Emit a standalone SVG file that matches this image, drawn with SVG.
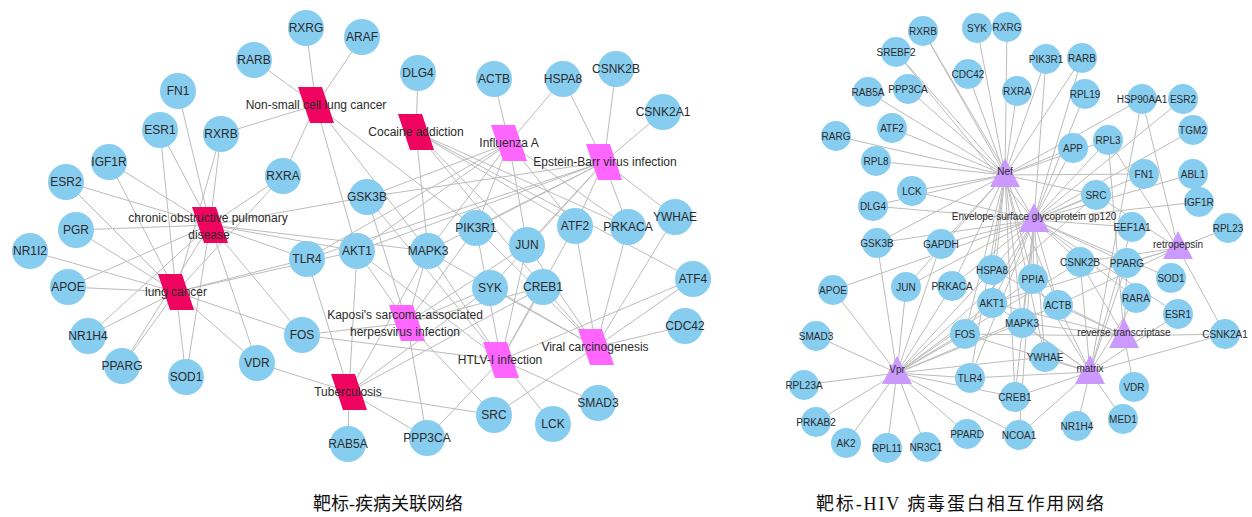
<svg xmlns="http://www.w3.org/2000/svg" width="1252" height="517" viewBox="0 0 1252 517">
<style>
.bg{fill:#ffffff}
.e line{stroke:#bcbcbc;stroke-width:1}
.gL circle{fill:#87cdf0}
.gR circle{fill:#87cdf0}
.gL text{font-family:"Liberation Sans",Arial,sans-serif;font-size:12px;fill:#2a2a2a;text-anchor:middle}
.gR text{font-family:"Liberation Sans",Arial,sans-serif;font-size:10px;fill:#2a2a2a;text-anchor:middle}
.dr polygon{fill:#ef0560}
.dm polygon{fill:#ff66ff}
.dr text,.dm text{font-family:"Liberation Sans",Arial,sans-serif;font-size:12px;fill:#2a2a2a;text-anchor:middle}
.tri polygon{fill:#cc99ff}
.tri text{font-family:"Liberation Sans",Arial,sans-serif;font-size:10px;fill:#2a2a2a;text-anchor:middle}
.cap{font-family:"Liberation Serif","Noto Sans CJK SC",serif;font-size:18px;fill:#111;text-anchor:middle}
</style>
<rect class="bg" x="0" y="0" width="1252" height="517"/>
<g id="connectors" class="e">
<!-- NSCLC -->
<line x1="316" y1="105" x2="306" y2="28"/><line x1="316" y1="105" x2="362" y2="37"/><line x1="316" y1="105" x2="254" y2="60"/><line x1="316" y1="105" x2="221" y2="134"/><line x1="316" y1="105" x2="283" y2="176"/><line x1="316" y1="105" x2="357" y2="251"/><line x1="316" y1="105" x2="428" y2="251"/><line x1="316" y1="105" x2="476" y2="228"/>
<!-- COPD -->
<line x1="210" y1="225" x2="178" y2="91"/><line x1="210" y1="225" x2="160" y2="130"/><line x1="210" y1="225" x2="221" y2="134"/><line x1="210" y1="225" x2="109" y2="162"/><line x1="210" y1="225" x2="66" y2="182"/><line x1="210" y1="225" x2="283" y2="176"/><line x1="210" y1="225" x2="76" y2="230"/><line x1="210" y1="225" x2="367" y2="197"/><line x1="210" y1="225" x2="357" y2="251"/><line x1="210" y1="225" x2="307" y2="259"/><line x1="210" y1="225" x2="302" y2="335"/><line x1="210" y1="225" x2="257" y2="363"/><line x1="210" y1="225" x2="186" y2="377"/><line x1="210" y1="225" x2="122" y2="366"/><line x1="210" y1="225" x2="68" y2="287"/><line x1="210" y1="225" x2="88" y2="336"/><line x1="210" y1="225" x2="428" y2="251"/>
<!-- lung cancer -->
<line x1="176" y1="292" x2="160" y2="130"/><line x1="176" y1="292" x2="221" y2="134"/><line x1="176" y1="292" x2="109" y2="162"/><line x1="176" y1="292" x2="66" y2="182"/><line x1="176" y1="292" x2="76" y2="230"/><line x1="176" y1="292" x2="30" y2="251"/><line x1="176" y1="292" x2="68" y2="287"/><line x1="176" y1="292" x2="88" y2="336"/><line x1="176" y1="292" x2="122" y2="366"/><line x1="176" y1="292" x2="186" y2="377"/><line x1="176" y1="292" x2="257" y2="363"/><line x1="176" y1="292" x2="302" y2="335"/><line x1="176" y1="292" x2="307" y2="259"/><line x1="176" y1="292" x2="357" y2="251"/><line x1="176" y1="292" x2="283" y2="176"/>
<!-- Cocaine -->
<line x1="416" y1="132" x2="418" y2="73"/><line x1="416" y1="132" x2="628" y2="227"/><line x1="416" y1="132" x2="543" y2="287"/><line x1="416" y1="132" x2="575" y2="226"/><line x1="416" y1="132" x2="693" y2="279"/><line x1="416" y1="132" x2="527" y2="245"/><line x1="416" y1="132" x2="428" y2="251"/>
<!-- Influenza A -->
<line x1="509" y1="143" x2="494" y2="79"/><line x1="509" y1="143" x2="563" y2="79"/><line x1="509" y1="143" x2="367" y2="197"/><line x1="509" y1="143" x2="357" y2="251"/><line x1="509" y1="143" x2="428" y2="251"/><line x1="509" y1="143" x2="476" y2="228"/><line x1="509" y1="143" x2="527" y2="245"/><line x1="509" y1="143" x2="307" y2="259"/><line x1="509" y1="143" x2="575" y2="226"/><line x1="509" y1="143" x2="628" y2="227"/>
<!-- EBV -->
<line x1="604" y1="162" x2="563" y2="79"/><line x1="604" y1="162" x2="616" y2="69"/><line x1="604" y1="162" x2="663" y2="112"/><line x1="604" y1="162" x2="675" y2="217"/><line x1="604" y1="162" x2="628" y2="227"/><line x1="604" y1="162" x2="575" y2="226"/><line x1="604" y1="162" x2="367" y2="197"/><line x1="604" y1="162" x2="357" y2="251"/><line x1="604" y1="162" x2="428" y2="251"/><line x1="604" y1="162" x2="476" y2="228"/><line x1="604" y1="162" x2="527" y2="245"/><line x1="604" y1="162" x2="490" y2="288"/><line x1="604" y1="162" x2="307" y2="259"/>
<!-- KSHV -->
<line x1="407" y1="323" x2="302" y2="335"/><line x1="407" y1="323" x2="357" y2="251"/><line x1="407" y1="323" x2="428" y2="251"/><line x1="407" y1="323" x2="367" y2="197"/><line x1="407" y1="323" x2="476" y2="228"/><line x1="407" y1="323" x2="527" y2="245"/><line x1="407" y1="323" x2="490" y2="288"/><line x1="407" y1="323" x2="543" y2="287"/><line x1="407" y1="323" x2="427" y2="438"/><line x1="407" y1="323" x2="494" y2="415"/>
<!-- HTLV -->
<line x1="501" y1="360" x2="476" y2="228"/><line x1="501" y1="360" x2="527" y2="245"/><line x1="501" y1="360" x2="543" y2="287"/><line x1="501" y1="360" x2="575" y2="226"/><line x1="501" y1="360" x2="693" y2="279"/><line x1="501" y1="360" x2="553" y2="424"/><line x1="501" y1="360" x2="598" y2="403"/><line x1="501" y1="360" x2="427" y2="438"/><line x1="501" y1="360" x2="357" y2="251"/><line x1="501" y1="360" x2="302" y2="335"/><line x1="501" y1="360" x2="428" y2="251"/><line x1="501" y1="360" x2="367" y2="197"/>
<!-- Viral carcinogenesis -->
<line x1="596" y1="347" x2="490" y2="288"/><line x1="596" y1="347" x2="527" y2="245"/><line x1="596" y1="347" x2="543" y2="287"/><line x1="596" y1="347" x2="575" y2="226"/><line x1="596" y1="347" x2="628" y2="227"/><line x1="596" y1="347" x2="675" y2="217"/><line x1="596" y1="347" x2="693" y2="279"/><line x1="596" y1="347" x2="685" y2="326"/><line x1="596" y1="347" x2="494" y2="415"/><line x1="596" y1="347" x2="476" y2="228"/><line x1="596" y1="347" x2="428" y2="251"/>
<!-- Tuberculosis -->
<line x1="349" y1="392" x2="348" y2="444"/><line x1="349" y1="392" x2="257" y2="363"/><line x1="349" y1="392" x2="307" y2="259"/><line x1="349" y1="392" x2="357" y2="251"/><line x1="349" y1="392" x2="494" y2="415"/><line x1="349" y1="392" x2="427" y2="438"/><line x1="349" y1="392" x2="428" y2="251"/><line x1="349" y1="392" x2="490" y2="288"/><line x1="349" y1="392" x2="543" y2="287"/>
<!-- RIGHT: Nef -->
<line x1="1005" y1="175" x2="923" y2="31"/><line x1="1005" y1="175" x2="977" y2="28"/><line x1="1005" y1="175" x2="1007" y2="27"/><line x1="1005" y1="175" x2="896" y2="52"/><line x1="1005" y1="175" x2="968" y2="74"/><line x1="1005" y1="175" x2="868" y2="92"/><line x1="1005" y1="175" x2="908" y2="89"/><line x1="1005" y1="175" x2="1017" y2="91"/><line x1="1005" y1="175" x2="1046" y2="59"/><line x1="1005" y1="175" x2="1082" y2="58"/><line x1="1005" y1="175" x2="892" y2="128"/><line x1="1005" y1="175" x2="836" y2="136"/><line x1="1005" y1="175" x2="876" y2="161"/><line x1="1005" y1="175" x2="912" y2="191"/><line x1="1005" y1="175" x2="873" y2="206"/><line x1="1005" y1="175" x2="1073" y2="148"/><line x1="1005" y1="175" x2="1108" y2="140"/><line x1="1005" y1="175" x2="1142" y2="99"/><line x1="1005" y1="175" x2="1144" y2="174"/><line x1="1005" y1="175" x2="1096" y2="195"/><line x1="1005" y1="175" x2="877" y2="243"/><line x1="1005" y1="175" x2="941" y2="244"/><line x1="1005" y1="175" x2="992" y2="270"/><line x1="1005" y1="175" x2="992" y2="303"/><line x1="1005" y1="175" x2="952" y2="286"/><line x1="1005" y1="175" x2="1033" y2="279"/><line x1="1005" y1="175" x2="1022" y2="323"/><line x1="1005" y1="175" x2="1058" y2="305"/><line x1="1005" y1="175" x2="965" y2="334"/><line x1="1005" y1="175" x2="1015" y2="397"/><line x1="1005" y1="175" x2="970" y2="378"/><line x1="1005" y1="175" x2="906" y2="287"/><line x1="1005" y1="175" x2="1045" y2="357"/>
<!-- Env -->
<line x1="1034" y1="220" x2="923" y2="31"/><line x1="1034" y1="220" x2="896" y2="52"/><line x1="1034" y1="220" x2="1046" y2="59"/><line x1="1034" y1="220" x2="1082" y2="58"/><line x1="1034" y1="220" x2="1085" y2="94"/><line x1="1034" y1="220" x2="1073" y2="148"/><line x1="1034" y1="220" x2="1108" y2="140"/><line x1="1034" y1="220" x2="1183" y2="99"/><line x1="1034" y1="220" x2="1193" y2="130"/><line x1="1034" y1="220" x2="1193" y2="174"/><line x1="1034" y1="220" x2="1199" y2="202"/><line x1="1034" y1="220" x2="1144" y2="174"/><line x1="1034" y1="220" x2="1096" y2="195"/><line x1="1034" y1="220" x2="1132" y2="227"/><line x1="1034" y1="220" x2="1080" y2="262"/><line x1="1034" y1="220" x2="1127" y2="263"/><line x1="1034" y1="220" x2="1171" y2="278"/><line x1="1034" y1="220" x2="1033" y2="279"/><line x1="1034" y1="220" x2="1058" y2="305"/><line x1="1034" y1="220" x2="1022" y2="323"/><line x1="1034" y1="220" x2="992" y2="303"/><line x1="1034" y1="220" x2="992" y2="270"/><line x1="1034" y1="220" x2="952" y2="286"/><line x1="1034" y1="220" x2="941" y2="244"/><line x1="1034" y1="220" x2="906" y2="287"/><line x1="1034" y1="220" x2="965" y2="334"/><line x1="1034" y1="220" x2="970" y2="378"/><line x1="1034" y1="220" x2="1015" y2="397"/><line x1="1034" y1="220" x2="1045" y2="357"/><line x1="1034" y1="220" x2="873" y2="206"/><line x1="1034" y1="220" x2="912" y2="191"/><line x1="1034" y1="220" x2="833" y2="290"/><line x1="1034" y1="220" x2="877" y2="243"/><line x1="1034" y1="220" x2="1019" y2="435"/><line x1="1034" y1="220" x2="1136" y2="298"/><line x1="1034" y1="220" x2="1178" y2="314"/>
<!-- retropepsin -->
<line x1="1178" y1="248" x2="1228" y2="228"/><line x1="1178" y1="248" x2="1142" y2="99"/><line x1="1178" y1="248" x2="1108" y2="140"/><line x1="1178" y1="248" x2="1127" y2="263"/><line x1="1178" y1="248" x2="1225" y2="334"/><line x1="1178" y1="248" x2="1058" y2="305"/><line x1="1178" y1="248" x2="1080" y2="262"/><line x1="1178" y1="248" x2="1096" y2="195"/><line x1="1178" y1="248" x2="992" y2="303"/>
<!-- reverse transcriptase -->
<line x1="1124" y1="336" x2="1022" y2="323"/><line x1="1124" y1="336" x2="1225" y2="334"/><line x1="1124" y1="336" x2="1134" y2="387"/><line x1="1124" y1="336" x2="1058" y2="305"/><line x1="1124" y1="336" x2="1080" y2="262"/><line x1="1124" y1="336" x2="1127" y2="263"/><line x1="1124" y1="336" x2="1108" y2="140"/><line x1="1124" y1="336" x2="992" y2="270"/><line x1="1124" y1="336" x2="992" y2="303"/><line x1="1124" y1="336" x2="965" y2="334"/>
<!-- matrix -->
<line x1="1090" y1="372" x2="1015" y2="397"/><line x1="1090" y1="372" x2="1019" y2="435"/><line x1="1090" y1="372" x2="1077" y2="426"/><line x1="1090" y1="372" x2="1123" y2="419"/><line x1="1090" y1="372" x2="1045" y2="357"/><line x1="1090" y1="372" x2="1225" y2="334"/><line x1="1090" y1="372" x2="1127" y2="263"/><line x1="1090" y1="372" x2="1136" y2="298"/><line x1="1090" y1="372" x2="1142" y2="99"/><line x1="1090" y1="372" x2="1058" y2="305"/><line x1="1090" y1="372" x2="1080" y2="262"/><line x1="1090" y1="372" x2="1022" y2="323"/><line x1="1090" y1="372" x2="1033" y2="279"/><line x1="1090" y1="372" x2="992" y2="303"/><line x1="1090" y1="372" x2="1132" y2="227"/><line x1="1090" y1="372" x2="1178" y2="314"/><line x1="1090" y1="372" x2="970" y2="378"/><line x1="1090" y1="372" x2="965" y2="334"/>
<!-- Vpr -->
<line x1="897" y1="373" x2="877" y2="243"/><line x1="897" y1="373" x2="941" y2="244"/><line x1="897" y1="373" x2="833" y2="290"/><line x1="897" y1="373" x2="906" y2="287"/><line x1="897" y1="373" x2="952" y2="286"/><line x1="897" y1="373" x2="992" y2="270"/><line x1="897" y1="373" x2="992" y2="303"/><line x1="897" y1="373" x2="965" y2="334"/><line x1="897" y1="373" x2="816" y2="336"/><line x1="897" y1="373" x2="804" y2="385"/><line x1="897" y1="373" x2="970" y2="378"/><line x1="897" y1="373" x2="816" y2="422"/><line x1="897" y1="373" x2="846" y2="443"/><line x1="897" y1="373" x2="887" y2="448"/><line x1="897" y1="373" x2="926" y2="447"/><line x1="897" y1="373" x2="967" y2="434"/><line x1="897" y1="373" x2="1019" y2="435"/><line x1="897" y1="373" x2="1015" y2="397"/><line x1="897" y1="373" x2="1022" y2="323"/><line x1="897" y1="373" x2="1033" y2="279"/><line x1="897" y1="373" x2="1058" y2="305"/><line x1="897" y1="373" x2="1080" y2="262"/><line x1="897" y1="373" x2="1096" y2="195"/><line x1="897" y1="373" x2="1045" y2="357"/>
</g>
<!-- LEFT disease nodes -->
<g id="L-NSCLC" class="dr"><polygon points="298,87 322,87 334,123 310,123"/><text x="316" y="109">Non-small cell lung cancer</text></g>
<g id="L-COPD" class="dr"><polygon points="192,207 216,207 228,243 204,243"/><text x="208" y="222">chronic obstructive pulmonary</text><text x="209" y="239">disease</text></g>
<g id="L-LC" class="dr"><polygon points="158,274 182,274 194,310 170,310"/><text x="176" y="296">lung cancer</text></g>
<g id="L-Cocaine" class="dr"><polygon points="398,114 422,114 434,150 410,150"/><text x="416" y="136">Cocaine addiction</text></g>
<g id="L-TB" class="dr"><polygon points="331,374 355,374 367,410 343,410"/><text x="348" y="396">Tuberculosis</text></g>
<g id="L-Influenza" class="dm"><polygon points="491,125 515,125 527,161 503,161"/><text x="509" y="147">Influenza A</text></g>
<g id="L-EBV" class="dm"><polygon points="586,144 610,144 622,180 598,180"/><text x="605" y="166">Epstein-Barr virus infection</text></g>
<g id="L-KSHV" class="dm"><polygon points="389,305 413,305 425,341 401,341"/><text x="405" y="319">Kaposi's sarcoma-associated</text><text x="405" y="336">herpesvirus infection</text></g>
<g id="L-HTLV" class="dm"><polygon points="483,342 507,342 519,378 495,378"/><text x="500" y="364">HTLV-I infection</text></g>
<g id="L-Viral" class="dm"><polygon points="578,329 602,329 614,365 590,365"/><text x="595" y="351">Viral carcinogenesis</text></g>
<!-- LEFT gene nodes -->
<g id="L-RXRG" class="gL"><circle cx="306" cy="28" r="18"/><text x="306" y="32">RXRG</text></g>
<g id="L-ARAF" class="gL"><circle cx="362" cy="37" r="18"/><text x="362" y="41">ARAF</text></g>
<g id="L-RARB" class="gL"><circle cx="254" cy="60" r="18"/><text x="254" y="64">RARB</text></g>
<g id="L-FN1" class="gL"><circle cx="178" cy="91" r="18"/><text x="178" y="95">FN1</text></g>
<g id="L-ESR1" class="gL"><circle cx="160" cy="130" r="18"/><text x="160" y="134">ESR1</text></g>
<g id="L-RXRB" class="gL"><circle cx="221" cy="134" r="18"/><text x="221" y="138">RXRB</text></g>
<g id="L-IGF1R" class="gL"><circle cx="109" cy="162" r="18"/><text x="109" y="166">IGF1R</text></g>
<g id="L-ESR2" class="gL"><circle cx="66" cy="182" r="18"/><text x="66" y="186">ESR2</text></g>
<g id="L-RXRA" class="gL"><circle cx="283" cy="176" r="18"/><text x="283" y="180">RXRA</text></g>
<g id="L-PGR" class="gL"><circle cx="76" cy="230" r="18"/><text x="76" y="234">PGR</text></g>
<g id="L-NR1I2" class="gL"><circle cx="30" cy="251" r="18"/><text x="30" y="255">NR1I2</text></g>
<g id="L-APOE" class="gL"><circle cx="68" cy="287" r="18"/><text x="68" y="291">APOE</text></g>
<g id="L-NR1H4" class="gL"><circle cx="88" cy="336" r="18"/><text x="88" y="340">NR1H4</text></g>
<g id="L-PPARG" class="gL"><circle cx="122" cy="366" r="18"/><text x="122" y="370">PPARG</text></g>
<g id="L-SOD1" class="gL"><circle cx="186" cy="377" r="18"/><text x="186" y="381">SOD1</text></g>
<g id="L-VDR" class="gL"><circle cx="257" cy="363" r="18"/><text x="257" y="367">VDR</text></g>
<g id="L-FOS" class="gL"><circle cx="302" cy="335" r="18"/><text x="302" y="339">FOS</text></g>
<g id="L-TLR4" class="gL"><circle cx="307" cy="259" r="18"/><text x="307" y="263">TLR4</text></g>
<g id="L-AKT1" class="gL"><circle cx="357" cy="251" r="18"/><text x="357" y="255">AKT1</text></g>
<g id="L-GSK3B" class="gL"><circle cx="367" cy="197" r="18"/><text x="367" y="201">GSK3B</text></g>
<g id="L-MAPK3" class="gL"><circle cx="428" cy="251" r="18"/><text x="428" y="255">MAPK3</text></g>
<g id="L-PIK3R1" class="gL"><circle cx="476" cy="228" r="18"/><text x="476" y="232">PIK3R1</text></g>
<g id="L-JUN" class="gL"><circle cx="527" cy="245" r="18"/><text x="527" y="249">JUN</text></g>
<g id="L-ATF2" class="gL"><circle cx="575" cy="226" r="18"/><text x="575" y="230">ATF2</text></g>
<g id="L-PRKACA" class="gL"><circle cx="628" cy="227" r="18"/><text x="628" y="231">PRKACA</text></g>
<g id="L-YWHAE" class="gL"><circle cx="675" cy="217" r="18"/><text x="675" y="221">YWHAE</text></g>
<g id="L-SYK" class="gL"><circle cx="490" cy="288" r="18"/><text x="490" y="292">SYK</text></g>
<g id="L-CREB1" class="gL"><circle cx="543" cy="287" r="18"/><text x="543" y="291">CREB1</text></g>
<g id="L-ATF4" class="gL"><circle cx="693" cy="279" r="18"/><text x="693" y="283">ATF4</text></g>
<g id="L-CDC42" class="gL"><circle cx="685" cy="326" r="18"/><text x="685" y="330">CDC42</text></g>
<g id="L-SRC" class="gL"><circle cx="494" cy="415" r="18"/><text x="494" y="419">SRC</text></g>
<g id="L-LCK" class="gL"><circle cx="553" cy="424" r="18"/><text x="553" y="428">LCK</text></g>
<g id="L-SMAD3" class="gL"><circle cx="598" cy="403" r="18"/><text x="598" y="407">SMAD3</text></g>
<g id="L-PPP3CA" class="gL"><circle cx="427" cy="438" r="18"/><text x="427" y="442">PPP3CA</text></g>
<g id="L-RAB5A" class="gL"><circle cx="348" cy="444" r="18"/><text x="348" y="448">RAB5A</text></g>
<g id="L-DLG4" class="gL"><circle cx="418" cy="73" r="18"/><text x="418" y="77">DLG4</text></g>
<g id="L-ACTB" class="gL"><circle cx="494" cy="79" r="18"/><text x="494" y="83">ACTB</text></g>
<g id="L-HSPA8" class="gL"><circle cx="563" cy="79" r="18"/><text x="563" y="83">HSPA8</text></g>
<g id="L-CSNK2B" class="gL"><circle cx="616" cy="69" r="18"/><text x="616" y="73">CSNK2B</text></g>
<g id="L-CSNK2A1" class="gL"><circle cx="663" cy="112" r="18"/><text x="663" y="116">CSNK2A1</text></g>
<!-- RIGHT gene nodes -->
<g id="R-RXRB" class="gR"><circle cx="923" cy="31" r="15"/><text x="923" y="35">RXRB</text></g>
<g id="R-SYK" class="gR"><circle cx="977" cy="28" r="15"/><text x="977" y="32">SYK</text></g>
<g id="R-RXRG" class="gR"><circle cx="1007" cy="27" r="15"/><text x="1007" y="31">RXRG</text></g>
<g id="R-SREBF2" class="gR"><circle cx="896" cy="52" r="15"/><text x="896" y="56">SREBF2</text></g>
<g id="R-CDC42" class="gR"><circle cx="968" cy="74" r="15"/><text x="968" y="78">CDC42</text></g>
<g id="R-RAB5A" class="gR"><circle cx="868" cy="92" r="15"/><text x="868" y="96">RAB5A</text></g>
<g id="R-PPP3CA" class="gR"><circle cx="908" cy="89" r="15"/><text x="908" y="93">PPP3CA</text></g>
<g id="R-RXRA" class="gR"><circle cx="1017" cy="91" r="15"/><text x="1017" y="95">RXRA</text></g>
<g id="R-PIK3R1" class="gR"><circle cx="1046" cy="59" r="15"/><text x="1046" y="63">PIK3R1</text></g>
<g id="R-RARB" class="gR"><circle cx="1082" cy="58" r="15"/><text x="1082" y="62">RARB</text></g>
<g id="R-RPL19" class="gR"><circle cx="1085" cy="94" r="15"/><text x="1085" y="98">RPL19</text></g>
<g id="R-HSP90AA1" class="gR"><circle cx="1142" cy="99" r="15"/><text x="1142" y="103">HSP90AA1</text></g>
<g id="R-ESR2" class="gR"><circle cx="1183" cy="99" r="15"/><text x="1183" y="103">ESR2</text></g>
<g id="R-TGM2" class="gR"><circle cx="1193" cy="130" r="15"/><text x="1193" y="134">TGM2</text></g>
<g id="R-ATF2" class="gR"><circle cx="892" cy="128" r="15"/><text x="892" y="132">ATF2</text></g>
<g id="R-RARG" class="gR"><circle cx="836" cy="136" r="15"/><text x="836" y="140">RARG</text></g>
<g id="R-RPL8" class="gR"><circle cx="876" cy="161" r="15"/><text x="876" y="165">RPL8</text></g>
<g id="R-APP" class="gR"><circle cx="1073" cy="148" r="15"/><text x="1073" y="152">APP</text></g>
<g id="R-RPL3" class="gR"><circle cx="1108" cy="140" r="15"/><text x="1108" y="144">RPL3</text></g>
<g id="R-FN1" class="gR"><circle cx="1144" cy="174" r="15"/><text x="1144" y="178">FN1</text></g>
<g id="R-ABL1" class="gR"><circle cx="1193" cy="174" r="15"/><text x="1193" y="178">ABL1</text></g>
<g id="R-LCK" class="gR"><circle cx="912" cy="191" r="15"/><text x="912" y="195">LCK</text></g>
<g id="R-SRC" class="gR"><circle cx="1096" cy="195" r="15"/><text x="1096" y="199">SRC</text></g>
<g id="R-IGF1R" class="gR"><circle cx="1199" cy="202" r="15"/><text x="1199" y="206">IGF1R</text></g>
<g id="R-DLG4" class="gR"><circle cx="873" cy="206" r="15"/><text x="873" y="210">DLG4</text></g>
<g id="R-EEF1A1" class="gR"><circle cx="1132" cy="227" r="15"/><text x="1132" y="231">EEF1A1</text></g>
<g id="R-RPL23" class="gR"><circle cx="1228" cy="228" r="15"/><text x="1228" y="232">RPL23</text></g>
<g id="R-GSK3B" class="gR"><circle cx="877" cy="243" r="15"/><text x="877" y="247">GSK3B</text></g>
<g id="R-GAPDH" class="gR"><circle cx="941" cy="244" r="15"/><text x="941" y="248">GAPDH</text></g>
<g id="R-CSNK2B" class="gR"><circle cx="1080" cy="262" r="15"/><text x="1080" y="266">CSNK2B</text></g>
<g id="R-PPARG" class="gR"><circle cx="1127" cy="263" r="15"/><text x="1127" y="267">PPARG</text></g>
<g id="R-HSPA8" class="gR"><circle cx="992" cy="270" r="15"/><text x="992" y="274">HSPA8</text></g>
<g id="R-SOD1" class="gR"><circle cx="1171" cy="278" r="15"/><text x="1171" y="282">SOD1</text></g>
<g id="R-PPIA" class="gR"><circle cx="1033" cy="279" r="15"/><text x="1033" y="283">PPIA</text></g>
<g id="R-PRKACA" class="gR"><circle cx="952" cy="286" r="15"/><text x="952" y="290">PRKACA</text></g>
<g id="R-JUN" class="gR"><circle cx="906" cy="287" r="15"/><text x="906" y="291">JUN</text></g>
<g id="R-APOE" class="gR"><circle cx="833" cy="290" r="15"/><text x="833" y="294">APOE</text></g>
<g id="R-RARA" class="gR"><circle cx="1136" cy="298" r="15"/><text x="1136" y="302">RARA</text></g>
<g id="R-AKT1" class="gR"><circle cx="992" cy="303" r="15"/><text x="992" y="307">AKT1</text></g>
<g id="R-ACTB" class="gR"><circle cx="1058" cy="305" r="15"/><text x="1058" y="309">ACTB</text></g>
<g id="R-ESR1" class="gR"><circle cx="1178" cy="314" r="15"/><text x="1178" y="318">ESR1</text></g>
<g id="R-MAPK3" class="gR"><circle cx="1022" cy="323" r="15"/><text x="1022" y="327">MAPK3</text></g>
<g id="R-FOS" class="gR"><circle cx="965" cy="334" r="15"/><text x="965" y="338">FOS</text></g>
<g id="R-CSNK2A1" class="gR"><circle cx="1225" cy="334" r="15"/><text x="1225" y="338">CSNK2A1</text></g>
<g id="R-SMAD3" class="gR"><circle cx="816" cy="336" r="15"/><text x="816" y="340">SMAD3</text></g>
<g id="R-YWHAE" class="gR"><circle cx="1045" cy="357" r="15"/><text x="1045" y="361">YWHAE</text></g>
<g id="R-TLR4" class="gR"><circle cx="970" cy="378" r="15"/><text x="970" y="382">TLR4</text></g>
<g id="R-RPL23A" class="gR"><circle cx="804" cy="385" r="15"/><text x="804" y="389">RPL23A</text></g>
<g id="R-VDR" class="gR"><circle cx="1134" cy="387" r="15"/><text x="1134" y="391">VDR</text></g>
<g id="R-CREB1" class="gR"><circle cx="1015" cy="397" r="15"/><text x="1015" y="401">CREB1</text></g>
<g id="R-MED1" class="gR"><circle cx="1123" cy="419" r="15"/><text x="1123" y="423">MED1</text></g>
<g id="R-PRKAB2" class="gR"><circle cx="816" cy="422" r="15"/><text x="816" y="426">PRKAB2</text></g>
<g id="R-NR1H4" class="gR"><circle cx="1077" cy="426" r="15"/><text x="1077" y="430">NR1H4</text></g>
<g id="R-PPARD" class="gR"><circle cx="967" cy="434" r="15"/><text x="967" y="438">PPARD</text></g>
<g id="R-NCOA1" class="gR"><circle cx="1019" cy="435" r="15"/><text x="1019" y="439">NCOA1</text></g>
<g id="R-AK2" class="gR"><circle cx="846" cy="443" r="15"/><text x="846" y="447">AK2</text></g>
<g id="R-NR3C1" class="gR"><circle cx="926" cy="447" r="15"/><text x="926" y="451">NR3C1</text></g>
<g id="R-RPL11" class="gR"><circle cx="887" cy="448" r="15"/><text x="887" y="452">RPL11</text></g>
<!-- RIGHT viral proteins -->
<g id="R-Nef" class="tri"><polygon points="1005,158 1020,187 990,187"/><text x="1005" y="175">Nef</text></g>
<g id="R-Env" class="tri"><polygon points="1034,203 1049,232 1019,232"/><text x="1034" y="220">Envelope surface glycoprotein gp120</text></g>
<g id="R-retropepsin" class="tri"><polygon points="1178,231 1193,259 1163,259"/><text x="1178" y="248">retropepsin</text></g>
<g id="R-RT" class="tri"><polygon points="1124,318 1139,348 1109,348"/><text x="1124" y="336">reverse transcriptase</text></g>
<g id="R-matrix" class="tri"><polygon points="1090,355 1105,384 1075,384"/><text x="1090" y="372">matrix</text></g>
<g id="R-Vpr" class="tri"><polygon points="897,356 912,384 882,384"/><text x="897" y="373">Vpr</text></g>
<!-- captions -->
<text class="cap" x="388" y="510">靶标-疾病关联网络</text>
<text class="cap" x="960" y="510" textLength="288" lengthAdjust="spacing">靶标-HIV 病毒蛋白相互作用网络</text>
</svg>
